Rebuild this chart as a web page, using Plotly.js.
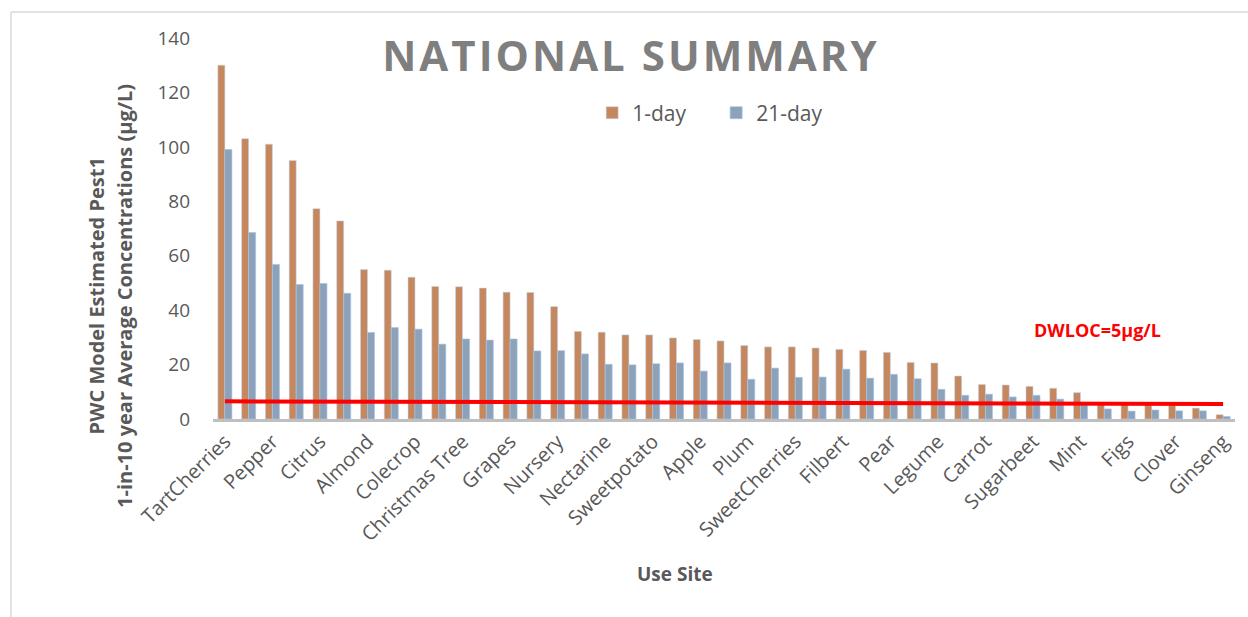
<!DOCTYPE html>
<html>
<head>
<meta charset="utf-8">
<script src="https://cdn.plot.ly/plotly-3.0.1.min.js"></script>
<style>
  html, body { margin: 0; padding: 0; background: #ffffff; }
  #chart { width: 1248px; height: 617px; }
</style>
</head>
<body>
<div id="chart"></div>
<script>
// ---- Data ----
const categories = [
  "TartCherries", "Peach", "Pepper", "Strawberry", "Citrus", "Onion", "Almond", "Tomato",
  "Colecrop", "Potato", "Christmas Tree", "Blueberry", "Grapes", "Cotton", "Nursery", "Lettuce",
  "Nectarine", "Melon", "Sweetpotato", "Walnut", "Apple", "Pecan", "Plum", "Hops",
  "SweetCherries", "Cucumber", "Filbert", "Turf", "Pear", "Alfalfa", "Legume", "Corn",
  "Carrot", "Soybean", "Sugarbeet", "Wheat", "Mint", "Cranberry", "Figs", "Sorghum",
  "Clover", "Rice", "Ginseng"
];

const tickLabels = [
  "TartCherries", "Pepper", "Citrus", "Almond", "Colecrop", "Christmas Tree", "Grapes",
  "Nursery", "Nectarine", "Sweetpotato", "Apple", "Plum", "SweetCherries", "Filbert",
  "Pear", "Legume", "Carrot", "Sugarbeet", "Mint", "Figs", "Clover", "Ginseng"
];

const oneDay = [
  130, 103, 101, 95, 77.3, 72.8, 54.9, 54.7, 52.1, 48.7, 48.6, 48.1,
  46.6, 46.5, 41.3, 32.2, 31.9, 30.9, 30.9, 29.8, 29.2, 28.7, 27.0, 26.5,
  26.5, 26.1, 25.6, 25.2, 24.5, 20.8, 20.6, 15.8, 12.7, 12.5, 12.0, 11.3,
  9.7, 5.8, 5.5, 5.3, 5.5, 4.0, 1.6
];

const twentyOneDay = [
  99, 68.5, 56.8, 49.4, 49.8, 46.2, 31.8, 33.6, 33.0, 27.5, 29.4, 29.0,
  29.4, 25.0, 25.1, 23.9, 20.1, 19.9, 20.3, 20.6, 17.6, 20.6, 14.6, 18.7,
  15.3, 15.4, 18.3, 15.0, 16.4, 14.8, 10.9, 8.7, 9.1, 8.1, 8.7, 7.3,
  5.5, 3.7, 2.9, 3.3, 3.0, 3.0, 0.9
];

// DWLOC reference line as drawn (slightly sloped in the original), start / end
const dwlocLineX = [categories[0], categories[categories.length - 1]];
const dwlocLineY = [6.5, 5.5];
const dwlocLabel = "DWLOC=5µg/L";

const seriesNames = ["1-day", "21-day"];
const yTicks = [0, 20, 40, 60, 80, 100, 120, 140];

// ---- Styles ----
const FONT = "Open Sans, Liberation Sans, sans-serif";
const GREY = "#595959";

const traces = [
  {
    type: "bar", name: seriesNames[0], x: categories, y: oneDay,
    marker: { color: "#C4875E", line: { color: "rgba(200,215,235,0.7)", width: 0.8 } },
    hoverinfo: "x+y+name"
  },
  {
    type: "bar", name: seriesNames[1], x: categories, y: twentyOneDay,
    marker: { color: "#8DA2B8", line: { color: "rgba(160,195,235,0.8)", width: 0.8 } },
    hoverinfo: "x+y+name"
  },
  {
    type: "scatter", mode: "lines", x: dwlocLineX, y: dwlocLineY,
    line: { color: "#FF0000", width: 4 }, showlegend: false, hoverinfo: "skip"
  }
];

const layout = {
  width: 1248, height: 617,
  margin: { l: 213, r: 13, t: 38, b: 198, pad: 0 },
  paper_bgcolor: "#ffffff", plot_bgcolor: "#ffffff",
  font: { family: FONT, color: GREY },
  barmode: "group", bargap: 0.41, bargroupgap: 0,
  title: {
    text: "NATIONAL SUMMARY",
    font: { family: FONT, size: 42, color: "#7F7F7F", weight: 700 },
    xref: "container", x: 0.5056, xanchor: "center",
    yref: "container", y: 0.909, yanchor: "middle"
  },
  showlegend: true,
  legend: {
    orientation: "h", x: 0.371, xanchor: "left", y: 0.803, yanchor: "middle",
    font: { family: FONT, size: 21, color: GREY },
    entrywidth: 79, entrywidthmode: "pixels",
    bgcolor: "rgba(0,0,0,0)", borderwidth: 0, traceorder: "normal"
  },
  xaxis: {
    type: "category", range: [-0.5, categories.length - 0.5],
    tickmode: "array", tickvals: tickLabels, ticktext: tickLabels,
    tickangle: -45, tickfont: { family: FONT, size: 20, color: GREY },
    showline: true, linecolor: "#BFBFBF", linewidth: 3,
    showgrid: false, zeroline: false, ticks: "", fixedrange: true
  },
  yaxis: {
    range: [0, 140], tickmode: "array", tickvals: yTicks,
    tickfont: { family: FONT, size: 19, color: GREY },
    showgrid: false, zeroline: false, showline: false, ticks: "",
    ticklabelstandoff: 22, fixedrange: true
  },
  annotations: [
    {
      text: dwlocLabel, xref: "paper", yref: "paper", x: 0.865, y: 0.2336,
      xanchor: "center", yanchor: "middle", showarrow: false,
      font: { family: FONT, size: 18, color: "#FF0000", weight: 700 }
    },
    {
      text: "Use Site", xref: "paper", yref: "paper", x: 0.452, y: -0.406,
      xanchor: "center", yanchor: "middle", showarrow: false,
      font: { family: FONT, size: 19, color: GREY, weight: 700 }
    },
    {
      text: "PWC Model Estimated Pest1", xref: "paper", yref: "paper",
      x: -0.114, y: 0.323, xanchor: "center", yanchor: "middle", textangle: -90,
      showarrow: false, font: { family: FONT, size: 20, color: GREY, weight: 700 }
    },
    {
      text: "1-in-10 year Average Concentrations (µg/L)", xref: "paper", yref: "paper",
      x: -0.0861, y: 0.323, xanchor: "center", yanchor: "middle", textangle: -90,
      showarrow: false, font: { family: FONT, size: 20, color: GREY, weight: 700 }
    }
  ],
  shapes: [
    {
      type: "line", xref: "paper", yref: "paper", layer: "below",
      x0: -0.1977, x1: 1.02, y0: 1.0682, y1: 1.0682,
      line: { color: "#D9D9D9", width: 1.5 }
    },
    {
      type: "line", xref: "paper", yref: "paper", layer: "below",
      x0: -0.1977, x1: -0.1977, y0: 1.0682, y1: -0.6,
      line: { color: "#D9D9D9", width: 1.5 }
    }
  ]
};

Plotly.newPlot("chart", traces, layout, { displayModeBar: false, staticPlot: true }).then(function () {
  const t = document.querySelector(".gtitle");
  if (t) { t.style.letterSpacing = "3px"; }
});
</script>
</body>
</html>
